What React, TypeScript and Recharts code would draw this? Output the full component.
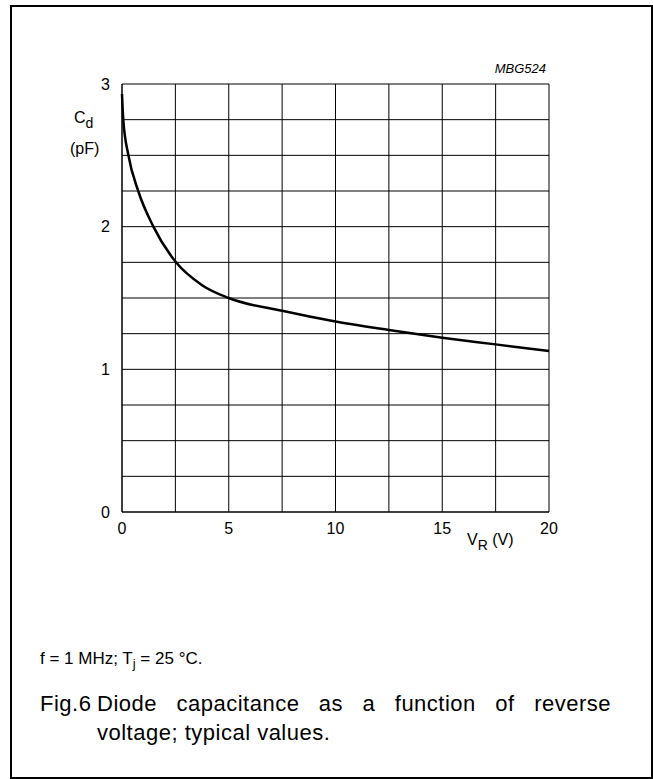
import { CartesianGrid, Line, LineChart, XAxis, YAxis } from 'recharts'

// reverse voltage (V) and diode capacitance (pF)
const voltages = [0, 0.06, 0.3, 0.76, 1.47, 2.53, 3.75, 5, 7.5, 10, 12.5, 15, 17.5, 20]
const capacitance = [2.93, 2.75, 2.5, 2.25, 2.0, 1.75, 1.59, 1.5, 1.41, 1.335, 1.276, 1.222, 1.175, 1.128]

const xTicks = [0, 2.5, 5, 7.5, 10, 12.5, 15, 17.5, 20]
const yTicks = [0, 0.25, 0.5, 0.75, 1, 1.25, 1.5, 1.75, 2, 2.25, 2.5, 2.75, 3]

const data = voltages.map((v, i) => ({ v, c: capacitance[i] }))

const font = 'Arial, "Liberation Sans", Helvetica, sans-serif'

export default function App() {
  return (
    <div style={{ position: 'fixed', left: 0, top: 0, width: 653, height: 779, background: '#fff', fontFamily: font, color: '#000' }}>
      <div style={{ position: 'absolute', left: 10, top: 5, width: 643, height: 774, border: '2px solid #000', boxSizing: 'border-box' }} />
      <div style={{ position: 'absolute', left: 0, top: 0 }}>
        <LineChart width={653} height={779} data={data} margin={{ top: 84, right: 104, bottom: 237, left: 92 }}>
          <CartesianGrid stroke="#000" strokeWidth={1} />
          <XAxis
            dataKey="v"
            type="number"
            domain={[0, 20]}
            ticks={xTicks}
            interval={0}
            height={30}
            tickLine={false}
            axisLine={{ stroke: '#000' }}
            tickSize={6}
            tickMargin={5}
            tick={{ fill: '#000', fontSize: 16, fontFamily: font }}
            tickFormatter={(t: number) => (t % 5 === 0 ? String(t) : '')}
          />
          <YAxis
            type="number"
            domain={[0, 3]}
            ticks={yTicks}
            interval={0}
            width={30}
            tickLine={false}
            axisLine={{ stroke: '#000' }}
            tickSize={6}
            tickMargin={6}
            tick={{ fill: '#000', fontSize: 16, fontFamily: font }}
            tickFormatter={(t: number) => (Number.isInteger(t) ? String(t) : '')}
          />
          <Line type="monotone" dataKey="c" stroke="#000" strokeWidth={2.5} dot={false} isAnimationActive={false} />
        </LineChart>
      </div>
      <div style={{ position: 'absolute', left: 74, top: 109, fontSize: 16, lineHeight: '18px' }}>
        C<sub style={{ fontSize: 14, verticalAlign: -5 }}>d</sub>
      </div>
      <div style={{ position: 'absolute', left: 70, top: 140, fontSize: 16, lineHeight: '18px' }}>(pF)</div>
      <div style={{ position: 'absolute', right: 653 - 546, top: 61, fontSize: 13, fontStyle: 'italic', lineHeight: '16px' }}>MBG524</div>
      <div style={{ position: 'absolute', left: 467, top: 531, fontSize: 16, lineHeight: '18px' }}>
        V<sub style={{ fontSize: 14, verticalAlign: -5 }}>R</sub> (V)
      </div>
      <div style={{ position: 'absolute', left: 40, top: 650, fontSize: 17, lineHeight: '18px' }}>
        f = 1 MHz; T<sub style={{ fontSize: 13, verticalAlign: -4 }}>j</sub> = 25 °C.
      </div>
      <div style={{ position: 'absolute', left: 40, top: 689, fontSize: 22, lineHeight: '29px', letterSpacing: 0.5 }}>Fig.6</div>
      <div style={{ position: 'absolute', left: 97, top: 689, width: 514, fontSize: 22, lineHeight: '29px', letterSpacing: 0.5 }}>
        <div style={{ textAlign: 'justify', textAlignLast: 'justify' }}>Diode capacitance as a function of reverse</div>
        <div>voltage; typical values.</div>
      </div>
    </div>
  )
}
